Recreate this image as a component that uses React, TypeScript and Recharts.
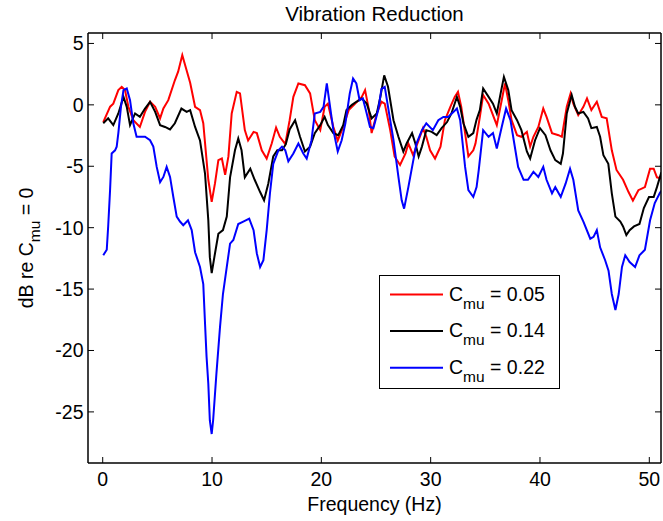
import { LineChart, Line, XAxis, YAxis, Legend } from 'recharts'

const FONT = '"Liberation Sans", Arial, Helvetica, sans-serif'

// frequency (Hz) / level (dB), one pair of arrays per C_mu
const redFreq = [0.05, 0.68, 0.97, 1.43, 1.74, 2.04, 2.35, 2.8, 3.4, 3.87, 4.33, 4.8, 5.25, 5.55, 6.0, 6.6, 6.9, 7.28, 7.68, 8.0, 8.45, 8.9, 9.2, 9.66, 9.97, 10.27, 10.58, 10.9, 11.2, 11.5, 11.8, 12.26, 12.56, 13.0, 13.3, 13.8, 14.1, 14.55, 15.0, 15.46, 15.86, 16.2, 16.7, 17.1, 17.44, 17.9, 18.5, 18.97, 19.4, 19.9, 20.3, 20.6, 21.1, 21.5, 22.0, 22.5, 23.1, 23.7, 24.0, 24.3, 24.6, 25.07, 25.5, 25.8, 26.3, 26.7, 27.2, 27.7, 27.96, 28.4, 28.9, 29.3, 29.6, 29.95, 30.4, 30.9, 31.3, 31.8, 32.2, 32.5, 32.8, 33.15, 33.45, 33.9, 34.1, 34.5, 34.8, 35.3, 35.7, 36.05, 36.5, 36.8, 37.1, 37.4, 37.9, 38.3, 38.8, 39.1, 39.4, 39.85, 40.3, 40.6, 41.1, 41.7, 42.0, 42.45, 42.8, 43.05, 43.5, 43.97, 44.3, 44.7, 45.2, 45.65, 46.1, 46.57, 47.0, 47.6, 48.1, 48.5, 49.0, 49.6, 50.07, 50.4, 50.7, 51.1]
const redDb = [-1.4, -0.15, 0.1, 1.2, 1.47, 1.2, -0.16, -1.25, -1.8, -0.57, 0.25, -0.16, -1.1, -0.3, 0.38, 2.0, 2.7, 4.05, 2.8, 1.8, -0.16, -0.43, -1.5, -6.1, -7.9, -6.4, -4.5, -4.37, -5.7, -4.2, -0.7, 1.06, 0.93, -2.06, -2.9, -2.2, -2.3, -3.7, -4.37, -3.15, -1.85, -2.6, -3.2, -1.25, 0.65, 1.74, 1.6, 0.93, -1.25, -2.06, -0.16, 0.1, -1.8, -2.9, -1.8, -0.43, 0.1, 0.65, 1.2, -0.16, -2.3, -0.7, 0.25, 0.1, -2.06, -4.2, -4.9, -3.96, -3.15, -4.1, -2.88, -1.9, -2.6, -3.7, -4.37, -3.4, -1.25, -0.16, 0.65, 1.06, -0.16, -2.3, -4.2, -3.7, -3.15, -0.98, 0.8, 0.1, -0.84, -1.65, 0.38, 1.74, 0.38, -1.25, -2.47, -2.6, -2.2, -3.4, -2.6, -1.8, -0.3, -0.98, -2.3, -2.47, -2.6, -0.16, 0.93, 0.1, -0.84, -0.16, 0.52, -0.43, 0.25, -0.98, -1.1, -3.7, -5.3, -6.1, -7.1, -7.8, -6.95, -6.7, -5.2, -5.2, -5.9, -6.0]

const blackFreq = [0.05, 0.5, 0.97, 1.43, 1.9, 2.2, 2.5, 2.96, 3.4, 3.87, 4.33, 4.8, 5.25, 5.7, 6.16, 6.6, 7.2, 7.68, 8.0, 8.45, 8.9, 9.36, 9.66, 9.8, 9.97, 10.27, 10.58, 11.0, 11.35, 11.65, 12.1, 12.4, 12.7, 13.0, 13.5, 13.9, 14.4, 14.76, 15.15, 15.6, 15.97, 16.4, 16.75, 17.1, 17.6, 18.05, 18.5, 18.97, 19.4, 19.9, 20.3, 20.6, 21.1, 21.55, 22.0, 22.3, 22.8, 23.2, 23.7, 24.15, 24.6, 25.07, 25.4, 25.75, 26.1, 26.6, 27.05, 27.5, 27.8, 28.3, 28.6, 28.9, 29.2, 29.6, 30.1, 30.55, 31.0, 31.5, 31.9, 32.4, 32.7, 33.0, 33.45, 33.9, 34.2, 34.5, 34.8, 35.3, 35.7, 36.05, 36.4, 36.7, 37.1, 37.4, 37.9, 38.3, 38.8, 39.1, 39.55, 40.0, 40.5, 40.96, 41.4, 41.9, 42.1, 42.45, 42.9, 43.2, 43.5, 43.97, 44.4, 44.7, 45.2, 45.5, 45.8, 46.25, 46.57, 46.9, 47.35, 47.6, 47.9, 48.2, 48.6, 49.1, 49.5, 49.97, 50.4, 50.7, 51.1]
const blackDb = [-1.5, -1.1, -1.65, -0.7, 0.65, -0.16, -1.65, -0.7, -0.98, -0.3, 0.25, -0.57, -1.65, -1.8, -2.0, -1.5, -0.3, -0.57, -0.43, -1.8, -2.9, -5.6, -9.4, -12.4, -13.7, -12.1, -10.5, -10.2, -9.1, -5.9, -3.7, -2.74, -3.7, -5.9, -5.2, -6.1, -7.1, -7.77, -6.4, -4.2, -3.7, -3.7, -3.2, -2.0, -1.25, -2.6, -3.8, -3.4, -2.3, -1.65, -0.98, -1.65, -2.3, -2.47, -1.65, -0.43, 0.0, 0.25, 0.52, 0.1, -1.1, -0.7, 0.65, 2.4, 1.47, -1.25, -2.6, -3.8, -3.15, -2.3, -3.15, -4.2, -3.4, -2.06, -2.2, -2.47, -1.9, -1.4, -0.7, 0.65, -0.16, -1.5, -2.6, -2.3, -1.2, -0.43, 1.34, 0.65, 0.1, -0.7, 0.93, 2.28, 1.2, -0.43, -1.25, -2.06, -3.8, -4.37, -2.88, -1.9, -2.47, -3.7, -4.5, -4.8, -3.96, -0.7, 0.8, -0.16, -0.7, -0.57, -1.1, -1.9, -1.8, -2.6, -4.1, -4.8, -7.2, -9.1, -9.5, -9.9, -10.6, -10.2, -9.9, -9.7, -8.4, -7.5, -7.5, -6.7, -5.5]

const blueFreq = [0.05, 0.37, 0.5, 0.67, 0.82, 1.13, 1.28, 1.43, 1.67, 1.9, 2.2, 2.5, 2.8, 3.1, 3.87, 4.33, 4.63, 4.94, 5.25, 5.55, 5.85, 6.16, 6.46, 6.77, 7.07, 7.37, 7.8, 8.14, 8.45, 8.9, 9.2, 9.36, 9.5, 9.66, 9.8, 9.97, 10.1, 10.4, 10.73, 11.0, 11.35, 11.65, 11.95, 12.4, 12.86, 13.4, 13.8, 14.1, 14.4, 14.7, 15.0, 15.3, 15.6, 16.07, 16.4, 16.7, 16.98, 17.44, 17.9, 18.35, 18.66, 19.1, 19.4, 19.9, 20.2, 20.5, 20.8, 21.1, 21.5, 21.86, 22.2, 22.6, 22.9, 23.2, 23.5, 23.8, 24.15, 24.45, 24.76, 25.2, 25.5, 25.8, 26.1, 26.6, 27.05, 27.35, 27.57, 27.96, 28.3, 28.7, 29.2, 29.6, 30.2, 30.7, 31.16, 31.6, 32.1, 32.4, 32.7, 33.15, 33.45, 33.9, 34.2, 34.4, 34.8, 35.3, 35.7, 36.05, 36.5, 36.9, 37.3, 37.6, 38.0, 38.5, 38.9, 39.4, 39.85, 40.3, 40.6, 41.1, 41.4, 41.9, 42.35, 42.75, 43.05, 43.5, 43.97, 44.6, 44.9, 45.2, 45.5, 45.96, 46.27, 46.57, 46.9, 47.2, 47.5, 47.8, 48.2, 48.7, 49.1, 49.6, 50.07, 50.5, 50.95, 51.1]
const blueDb = [-12.25, -11.8, -9.9, -7.0, -3.96, -3.7, -3.4, -2.3, -0.16, 1.2, 1.34, 0.38, -1.5, -2.6, -2.6, -2.88, -3.4, -5.05, -6.3, -5.87, -5.05, -5.87, -7.5, -9.1, -9.5, -9.8, -9.4, -10.2, -12.0, -13.2, -14.6, -17.8, -20.5, -22.7, -25.7, -26.8, -25.7, -21.9, -18.1, -15.4, -13.2, -11.3, -11.0, -9.7, -9.5, -9.26, -10.2, -12.1, -13.2, -12.65, -10.2, -7.2, -4.8, -3.7, -3.4, -3.7, -4.6, -3.96, -3.15, -3.96, -4.37, -2.88, -0.7, -0.57, -0.16, 1.74, -0.16, -2.06, -3.8, -2.88, -1.5, 0.93, 2.15, 1.74, 0.38, 0.52, -0.7, -1.8, -1.9, -0.43, 1.3, 1.47, -0.16, -2.88, -5.87, -7.77, -8.45, -6.7, -5.05, -3.15, -2.06, -1.5, -2.06, -1.25, -0.98, -0.98, -0.57, -0.3, -1.25, -5.05, -6.95, -7.5, -6.7, -5.3, -2.06, -2.6, -2.3, -3.55, -1.8, -0.3, -1.25, -2.88, -5.05, -6.1, -6.1, -5.46, -5.87, -5.05, -6.1, -7.2, -6.7, -7.5, -6.4, -5.2, -6.1, -8.6, -9.5, -10.9, -10.75, -10.2, -11.6, -12.65, -13.5, -15.4, -16.7, -15.4, -13.2, -12.25, -12.8, -13.2, -12.25, -11.8, -9.4, -8.0, -7.2, -7.0]

const cmuValues = ['0.05', '0.14', '0.22']
const lineColors = ['#ff0000', '#000000', '#0000ff']
const xTicks = [0, 10, 20, 30, 40, 50]
const yTicks = [-25, -20, -15, -10, -5, 0, 5]
const xDomain: [number, number] = [-1.345, 51.07]
const yDomain: [number, number] = [-29.16, 5.85]

const toPoints = (f: number[], db: number[]) => f.map((x, i) => ({ f: x, db: db[i] }))
const seriesData = [toPoints(redFreq, redDb), toPoints(blackFreq, blackDb), toPoints(blueFreq, blueDb)]

const tickStyle = { fill: '#000', fontSize: 19.5, fontFamily: FONT }
const axisLineStyle = { stroke: '#000', strokeWidth: 1.5 }
const tickLineStyle = { stroke: '#000', strokeWidth: 1 }
const noLabel = () => <g />

const LegendBox = () => (
  <svg width={181} height={114} style={{ display: 'block' }}>
    <rect x={0.5} y={0.5} width={180} height={113} fill="#fff" stroke="#000" strokeWidth={1} />
    {cmuValues.map((v, i) => {
      const y = 19.5 + i * 36.6
      return (
        <g key={v}>
          <line x1={11} x2={64} y1={y} y2={y} stroke={lineColors[i]} strokeWidth={2} />
          <text x={70} y={y + 6} fontSize={19.5} fontFamily={FONT} fill="#000">
            C<tspan dy={8} fontSize={15.5}>mu</tspan>
            <tspan dy={-8} fontSize={19.5}>{' = ' + v}</tspan>
          </text>
        </g>
      )
    })}
  </svg>
)

export default function App() {
  return (
    <div style={{ position: 'absolute', left: 0, top: 0, width: 663, height: 521, background: '#fff' }}>
      <LineChart width={663} height={521} margin={{ top: 32, right: 1, bottom: 0, left: 0 }}>
        <XAxis
          xAxisId="b"
          type="number"
          dataKey="f"
          domain={xDomain}
          ticks={xTicks}
          allowDataOverflow
          height={58}
          tickSize={-6}
          tickMargin={15}
          tick={tickStyle}
          axisLine={axisLineStyle}
          tickLine={tickLineStyle}
          label={{ value: 'Frequency (Hz)', position: 'insideBottom', offset: 10, fill: '#000', fontSize: 19.5, fontFamily: FONT }}
        />
        <XAxis
          xAxisId="t"
          orientation="top"
          type="number"
          dataKey="f"
          domain={xDomain}
          ticks={xTicks}
          allowDataOverflow
          height={1}
          tickSize={-6}
          tick={noLabel}
          axisLine={axisLineStyle}
          tickLine={tickLineStyle}
        />
        <YAxis
          yAxisId="l"
          type="number"
          dataKey="db"
          domain={yDomain}
          ticks={yTicks}
          allowDataOverflow
          width={88}
          tickSize={-6}
          tickMargin={10.5}
          tick={tickStyle}
          axisLine={axisLineStyle}
          tickLine={tickLineStyle}
        />
        <YAxis
          yAxisId="r"
          orientation="right"
          type="number"
          dataKey="db"
          domain={yDomain}
          ticks={yTicks}
          allowDataOverflow
          width={1}
          tickSize={-6}
          tick={noLabel}
          axisLine={axisLineStyle}
          tickLine={tickLineStyle}
        />
        <Legend
          layout="vertical"
          align="center"
          verticalAlign="middle"
          content={() => <LegendBox />}
          wrapperStyle={{ left: 379, top: 275, width: 181, height: 114 }}
        />
        {/* invisible copy so the top/right box axes get a domain and draw */}
        <Line
          xAxisId="t"
          yAxisId="r"
          data={seriesData[0]}
          dataKey="db"
          stroke="none"
          dot={false}
          activeDot={false}
          legendType="none"
          isAnimationActive={false}
        />
        {seriesData.map((d, i) => (
          <Line
            key={cmuValues[i]}
            xAxisId="b"
            yAxisId="l"
            data={d}
            dataKey="db"
            name={'C_mu = ' + cmuValues[i]}
            type="linear"
            stroke={lineColors[i]}
            strokeWidth={2}
            dot={false}
            activeDot={false}
            isAnimationActive={false}
          />
        ))}
      </LineChart>
      <svg width={663} height={521} style={{ position: 'absolute', left: 0, top: 0, pointerEvents: 'none' }}>
        <text x={374.5} y={21} textAnchor="middle" fontSize={20.5} fontFamily={FONT} fill="#000">
          Vibration Reduction
        </text>
        <text transform="translate(33,248) rotate(-90)" textAnchor="middle" fontSize={19.5} fontFamily={FONT} fill="#000">
          dB re C<tspan dy={7} fontSize={15.5}>mu</tspan>
          <tspan dy={-7} fontSize={19.5}>{' = 0'}</tspan>
        </text>
      </svg>
    </div>
  )
}
